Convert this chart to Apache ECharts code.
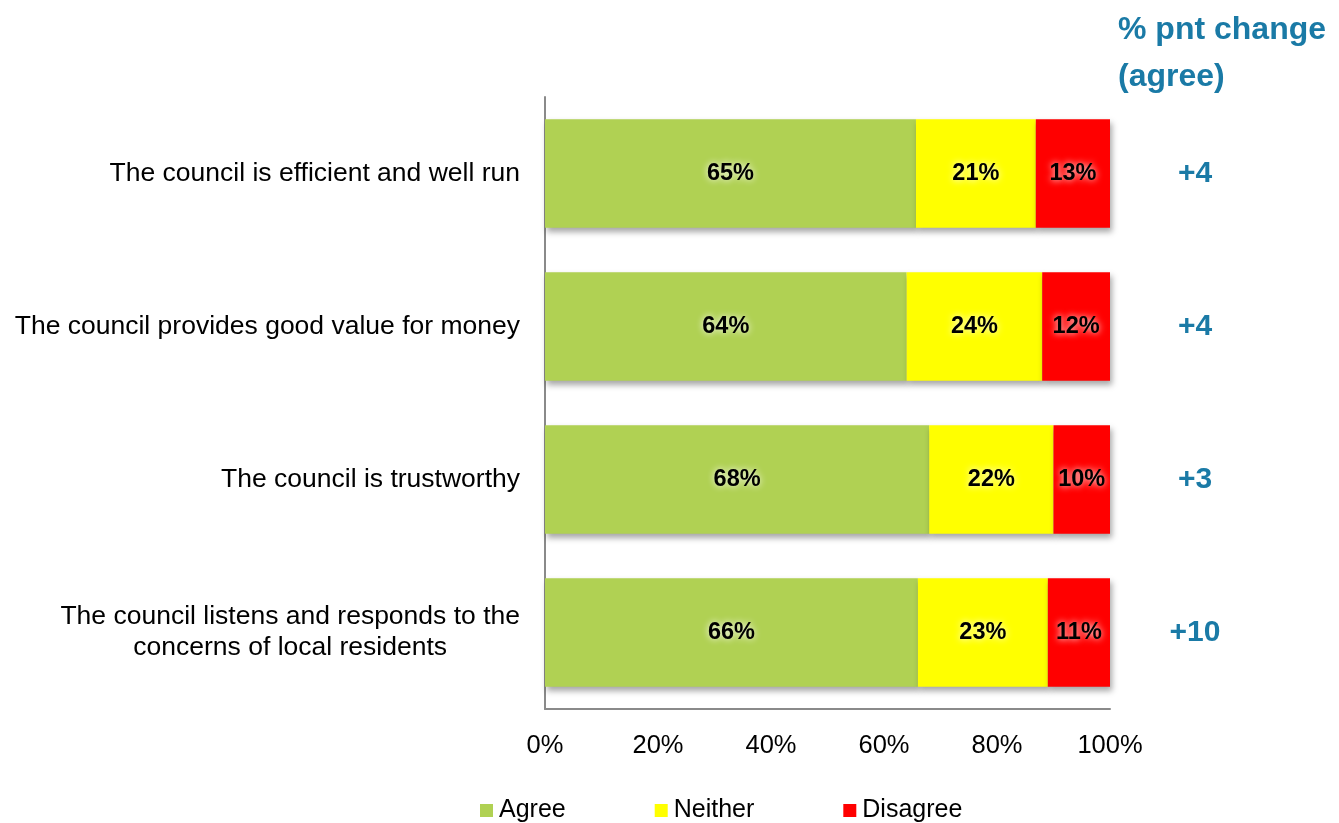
<!DOCTYPE html>
<html>
<head>
<meta charset="utf-8">
<script src="https://cdn.jsdelivr.net/npm/echarts@6/dist/echarts.min.js"></script>
<style>
  html, body { margin: 0; padding: 0; background: #ffffff; }
  #chart { width: 1339px; height: 823px; }
</style>
</head>
<body>
<div id="chart"></div>
<script>
// Survey statements (top to bottom)
const statements = [
  'The council is efficient and well run',
  'The council provides good value for money',
  'The council is trustworthy',
  'The council listens and responds to the\nconcerns of local residents'
];
// Response shares, %
const agree = [65, 64, 68, 66];
const neither = [21, 24, 22, 23];
const disagree = [13, 12, 10, 11];
// Percentage point change in agreement
const pntChange = [4, 4, 3, 10];
const xTicks = [0, 20, 40, 60, 80, 100];

const FONT = '"Liberation Sans", Arial, sans-serif';
const BLUE = '#1a7aa6';

// Each row is drawn as a 100% stacked bar; labels keep the reported value.
const totals = agree.map((a, i) => a + neither[i] + disagree[i]);
const toItems = arr => arr.map((v, i) => ({ value: v / totals[i] * 100, raw: v }));

const barLabel = {
  show: true,
  position: 'inside',
  formatter: p => p.data.raw + '%',
  fontFamily: FONT,
  fontWeight: 'bold',
  fontSize: 23.5,
  color: '#000',
  textShadowColor: '#ffffff',
  textShadowBlur: 7
};
const barShadow = {
  shadowColor: 'rgba(0,0,0,0.35)',
  shadowBlur: 6,
  shadowOffsetX: 2,
  shadowOffsetY: 4
};

const chart = echarts.init(document.getElementById('chart'), null, { renderer: 'canvas' });
chart.setOption({
  animation: false,
  backgroundColor: '#ffffff',
  grid: { left: 545, right: 229, top: 97, bottom: 114, containLabel: false },
  graphic: [{
    type: 'text',
    left: 1118,
    top: 7,
    style: {
      text: '% pnt change\n(agree)',
      font: 'bold 32px ' + FONT,
      fill: BLUE,
      lineHeight: 47
    }
  }],
  legend: {
    left: 475,
    top: 793,
    itemWidth: 13,
    itemHeight: 13,
    itemGap: 89,
    icon: 'rect',
    textStyle: { fontFamily: FONT, fontSize: 25, color: '#000', padding: [0, 0, 0, 1] },
    data: ['Agree', 'Neither', 'Disagree']
  },
  xAxis: {
    type: 'value',
    min: 0,
    max: 100,
    interval: 20,
    axisLine: { show: true, lineStyle: { color: '#8a8a8a', width: 2 } },
    axisTick: { show: false },
    splitLine: { show: false },
    axisLabel: {
      margin: 24,
      fontFamily: FONT,
      fontSize: 25.5,
      color: '#000',
      formatter: v => xTicks.includes(v) ? v + '%' : ''
    }
  },
  yAxis: [{
    type: 'category',
    inverse: true,
    data: statements,
    axisLine: { show: true, lineStyle: { color: '#8a8a8a', width: 2 } },
    axisTick: { show: false },
    axisLabel: {
      margin: 25,
      fontFamily: FONT,
      fontSize: 26.5,
      color: '#000',
      lineHeight: 31,
      formatter: v => v.split('\n').map(s => '{c|' + s + '}').join('\n'),
      rich: { c: { align: 'center', fontFamily: FONT, fontSize: 26.5, color: '#000', lineHeight: 31 } }
    }
  }, {
    type: 'category',
    inverse: true,
    position: 'right',
    data: pntChange.map(v => '+' + v),
    axisLine: { show: false },
    axisTick: { show: false },
    axisLabel: {
      margin: 85,
      align: 'center',
      padding: [10, 0, 0, 0],
      fontFamily: FONT,
      fontWeight: 'bold',
      fontSize: 30,
      color: BLUE
    }
  }],
  series: [
    {
      name: 'Agree', type: 'bar', stack: 'resp', barCategoryGap: '29%',
      data: toItems(agree),
      itemStyle: Object.assign({ color: '#b0d153' }, barShadow),
      label: barLabel
    },
    {
      name: 'Neither', type: 'bar', stack: 'resp', barCategoryGap: '29%',
      data: toItems(neither),
      itemStyle: Object.assign({ color: '#ffff00' }, barShadow),
      label: barLabel
    },
    {
      name: 'Disagree', type: 'bar', stack: 'resp', barCategoryGap: '29%',
      data: toItems(disagree),
      itemStyle: Object.assign({ color: '#ff0000' }, barShadow),
      label: barLabel
    }
  ]
});
</script>
</body>
</html>
